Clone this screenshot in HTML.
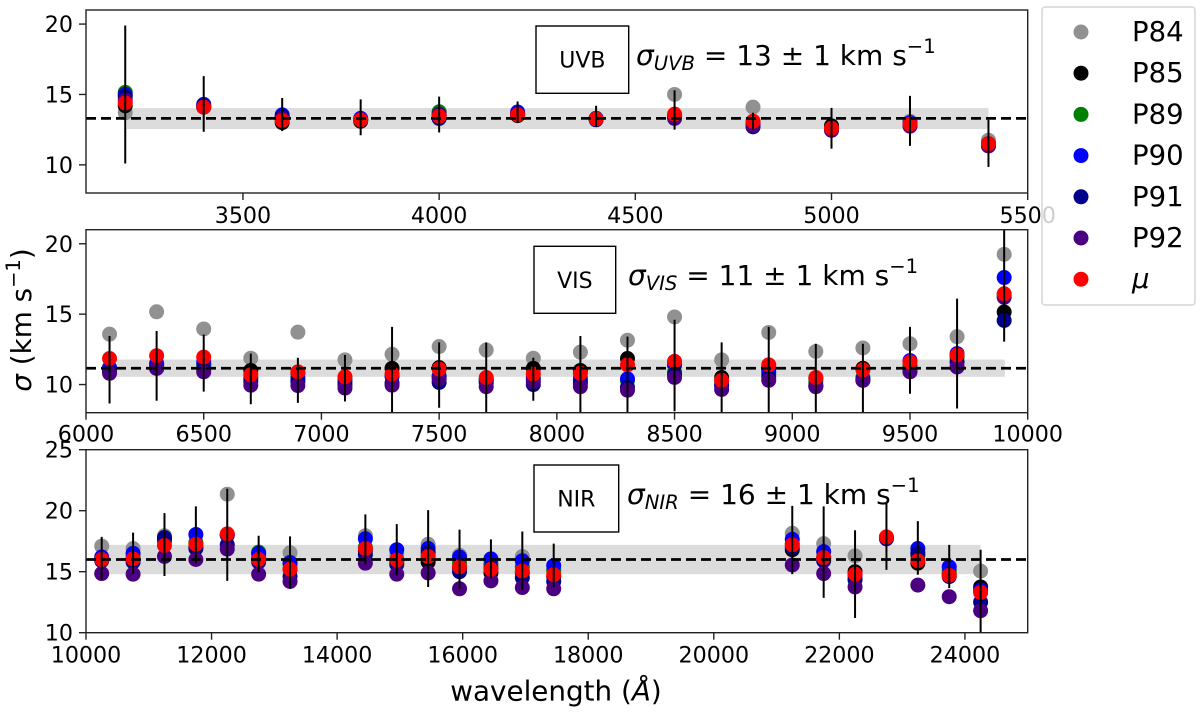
<!DOCTYPE html>
<html lang="en">
<head>
<meta charset="utf-8">
<title>Velocity dispersion versus wavelength</title>
<style>
html,body{margin:0;padding:0;background:#fff;width:1200px;height:713px;overflow:hidden}
svg{display:block}
text{font-family:"DejaVu Sans","Liberation Sans",sans-serif;fill:#000}
</style>
</head>
<body>
<svg id="chart" xmlns="http://www.w3.org/2000/svg" width="1200" height="713" viewBox="0 0 1200 713">
  <g id="panels"></g>
  <text transform="translate(31,320) rotate(-90)" text-anchor="middle" font-size="27.8"><tspan font-style="italic">σ</tspan> (km s<tspan font-size="19.5" dy="-11">−1</tspan><tspan dy="11">)</tspan></text>
  <text x="556" y="700.5" text-anchor="middle" font-size="27.8">wavelength (<tspan font-style="italic">Å</tspan>)</text>
  <g>
    <rect x="1042" y="7" width="153" height="298" rx="3" ry="3" fill="#fff" fill-opacity="0.8" stroke="#d6d6d6" stroke-width="1.5"/>
    <g id="legend-entries"></g>
  </g>
</svg>
<script>
// UVB arm
const uvbWave = [3200,3400,3600,3800,4000,4200,4400,4600,4800,5000,5200,5400];
const uvbP84 = [13.7,14.1,13.2,13.2,13.7,13.6,13.3,15.0,14.1,12.7,13.1,11.75];
const uvbP85 = [14.2,14.1,13.0,13.1,13.5,13.5,13.25,13.5,13.0,12.77,12.9,11.5];
const uvbP89 = [15.15,14.2,13.4,13.2,13.77,13.6,13.3,13.4,13.0,12.6,12.9,11.4];
const uvbP90 = [15.0,14.3,13.55,13.3,13.5,13.75,13.3,13.5,12.9,12.6,13.0,11.5];
const uvbP91 = [14.85,14.2,13.4,13.2,13.3,13.6,13.2,13.4,12.7,12.5,12.8,11.35];
const uvbP92 = [14.6,14.1,13.3,13.2,13.6,13.6,13.25,13.3,12.8,12.45,12.75,11.35];
const uvbMu = [14.4,14.1,13.15,13.2,13.45,13.55,13.27,13.6,13.1,12.6,12.9,11.5];
const uvbErrLow = [10.1,12.35,12.4,12.1,12.3,13.0,12.7,12.5,12.5,11.15,11.35,9.85];
const uvbErrHigh = [19.9,16.3,14.75,14.65,14.85,14.5,14.2,15.3,13.7,14.05,14.9,13.2];
const uvbXTicks = [3500,4000,4500,5000,5500];
const uvbYTicks = [10,15,20];
const uvbMean = 13.3;
const uvbBandLow = 12.54;
const uvbBandHigh = 14.03;
const uvbBandStart = 3204;
const uvbBandEnd = 5400;

// VIS arm
const visWave = [6100,6300,6500,6700,6900,7100,7300,7500,7700,7900,8100,8300,8500,8700,8900,9100,9300,9500,9700,9900];
const visP84 = [13.58,15.17,13.95,11.87,13.72,11.75,12.15,12.7,12.45,11.87,12.3,13.15,14.8,11.75,13.7,12.35,12.6,12.9,13.4,19.25];
const visP85 = [11.2,11.4,11.4,11.0,10.8,10.5,11.15,11.2,10.4,11.15,11.0,11.85,11.4,10.5,11.2,10.4,11.15,11.3,12.0,15.15];
const visP89 = [11.0,11.3,11.3,10.5,10.5,10.3,10.6,10.6,10.3,10.5,10.5,10.3,10.9,10.2,10.7,10.2,10.5,11.3,11.9,16.3];
const visP90 = [11.15,11.5,11.6,10.4,10.4,10.2,10.6,10.55,10.3,10.4,10.3,10.4,11.5,10.0,10.9,9.95,10.4,11.7,12.2,17.6];
const visP91 = [10.9,11.15,11.1,10.2,10.2,10.0,10.1,10.15,10.1,10.0,10.1,9.8,10.7,9.9,10.5,9.9,10.3,11.0,11.6,14.55];
const visP92 = [10.8,11.15,10.9,9.95,9.93,9.75,9.95,10.4,9.85,10.2,9.85,9.6,10.5,9.65,10.3,9.85,10.3,10.9,11.25,16.2];
const visMu = [11.85,12.05,11.95,10.7,10.9,10.55,10.75,11.1,10.5,10.75,10.8,11.4,11.65,10.3,11.4,10.5,11.05,11.6,12.1,16.45];
const visErrLow = [8.65,8.85,9.5,8.6,8.7,8.8,7.3,8.35,7.3,8.85,7.3,7.3,8.1,7.3,7.3,7.3,7.3,9.35,8.3,13.05];
const visErrHigh = [13.45,13.8,13.55,12.2,11.9,12.1,14.1,13.0,13.0,11.9,13.45,13.4,14.6,13.0,14.1,12.9,12.9,14.1,16.1,21.5];
const visXTicks = [6000,6500,7000,7500,8000,8500,9000,9500,10000];
const visYTicks = [10,15,20];
const visMean = 11.16;
const visBandLow = 10.55;
const visBandHigh = 11.78;
const visBandStart = 6131;
const visBandEnd = 9903;

// NIR arm
const nirWave = [10250,10750,11250,11750,12250,12750,13250,14450,14950,15450,15950,16450,16950,17450,21250,21750,22250,22750,23250,23750,24250];
const nirP84 = [17.1,16.9,17.95,17.3,21.35,16.4,16.55,17.95,16.4,17.25,16.35,15.8,16.25,15.2,18.15,17.3,16.3,17.8,16.6,15.2,15.05];
const nirP85 = [16.0,16.0,17.7,17.0,18.0,16.1,15.2,16.7,15.8,15.8,15.3,14.9,14.9,14.6,16.8,16.1,15.0,17.8,15.7,14.8,13.75];
const nirP89 = [16.1,16.2,17.5,17.4,18.0,16.6,15.6,17.0,16.0,16.3,15.7,15.6,15.4,15.1,17.3,16.2,14.3,17.8,16.3,15.0,13.4];
const nirP90 = [16.2,16.5,17.6,18.05,18.0,16.5,15.75,17.7,16.8,16.9,16.2,16.05,15.9,15.5,17.65,16.65,14.7,17.8,16.9,15.4,13.5];
const nirP91 = [15.9,15.8,17.8,16.9,17.2,15.8,14.6,16.4,15.6,16.6,15.0,15.3,14.5,14.2,17.0,15.9,14.4,17.7,16.5,14.6,12.5];
const nirP92 = [14.85,14.8,16.25,16.0,16.85,14.8,14.2,15.7,14.8,14.9,13.6,14.25,13.7,13.6,15.55,14.85,13.75,17.8,13.9,12.95,11.8];
const nirMu = [16.0,16.05,17.15,17.25,18.1,16.0,15.2,16.9,15.95,16.25,15.4,15.2,15.05,14.75,17.2,16.15,14.8,17.85,15.9,14.7,13.3];
const nirErrLow = [14.35,14.8,14.65,15.7,14.25,14.95,13.6,15.6,14.7,13.75,13.6,14.45,13.5,13.75,14.8,12.85,11.2,15.15,14.75,13.65,9.3];
const nirErrHigh = [17.85,18.2,19.8,20.35,21.8,17.95,17.9,19.7,18.9,20.05,18.45,17.65,18.3,17.3,20.4,20.35,18.4,20.6,19.15,17.2,16.8];
const nirXTicks = [10000,12000,14000,16000,18000,20000,22000,24000];
const nirYTicks = [10,15,20,25];
const nirMean = 16.0;
const nirBandLow = 14.8;
const nirBandHigh = 17.2;
const nirBandStart = 10250;
const nirBandEnd = 24250;

// Legend
const seriesNames = ['P84','P85','P89','P90','P91','P92','μ'];
const seriesColors = ['#919191','#000000','#008000','#0000ff','#00008b','#4b0082','#ff0000'];

const NS = 'http://www.w3.org/2000/svg';
function mk(tag, attrs, parent) {
  const el = document.createElementNS(NS, tag);
  for (const k in attrs) el.setAttribute(k, attrs[k]);
  parent.appendChild(el);
  return el;
}

const panels = [
  { id:'uvb', label:'UVB', box:{l:86,r:1027.7,t:10,b:193}, xlim:[3100,5500], ylim:[8,21],
    wave:uvbWave, series:[uvbP84,uvbP85,uvbP89,uvbP90,uvbP91,uvbP92,uvbMu], low:uvbErrLow, high:uvbErrHigh,
    xTicks:uvbXTicks, yTicks:uvbYTicks, mean:uvbMean, bandLow:uvbBandLow, bandHigh:uvbBandHigh, bandStart:uvbBandStart, bandEnd:uvbBandEnd,
    tag:{x:536,y:26,w:92.7,h:67.3}, value:'13', annX:636, annY:65, baseline:223 },
  { id:'vis', label:'VIS', box:{l:86,r:1027.7,t:229.7,b:412.7}, xlim:[6000,10000], ylim:[8,21],
    wave:visWave, series:[visP84,visP85,visP89,visP90,visP91,visP92,visMu], low:visErrLow, high:visErrHigh,
    xTicks:visXTicks, yTicks:visYTicks, mean:visMean, bandLow:visBandLow, bandHigh:visBandHigh, bandStart:visBandStart, bandEnd:visBandEnd,
    tag:{x:534,y:246.3,w:81.7,h:67}, value:'11', annX:628, annY:285, baseline:441.7 },
  { id:'nir', label:'NIR', box:{l:86,r:1027.7,t:449.7,b:632.7}, xlim:[10000,25000], ylim:[10,25],
    wave:nirWave, series:[nirP84,nirP85,nirP89,nirP90,nirP91,nirP92,nirMu], low:nirErrLow, high:nirErrHigh,
    xTicks:nirXTicks, yTicks:nirYTicks, mean:nirMean, bandLow:nirBandLow, bandHigh:nirBandHigh, bandStart:nirBandStart, bandEnd:nirBandEnd,
    tag:{x:534,y:465,w:84.7,h:67}, value:'16', annX:627, annY:504, baseline:662.7 }
];

const root = document.getElementById('panels');
panels.forEach(function (p) {
  const b = p.box;
  const sx = function (v) { return b.l + (v - p.xlim[0]) / (p.xlim[1] - p.xlim[0]) * (b.r - b.l); };
  const sy = function (v) { return b.b - (v - p.ylim[0]) / (p.ylim[1] - p.ylim[0]) * (b.b - b.t); };

  const g = mk('g', {}, root);
  
  

  const clip = mk('clipPath', { id: 'clip-' + p.id }, g);
  mk('rect', { x: b.l, y: b.t, width: b.r - b.l, height: b.b - b.t }, clip);

  const plot = mk('g', { 'clip-path': 'url(#clip-' + p.id + ')' }, g);
  
  

  const band = mk('rect', { x: sx(p.bandStart), y: sy(p.bandHigh), width: sx(p.bandEnd) - sx(p.bandStart), height: sy(p.bandLow) - sy(p.bandHigh), fill: '#dcdcdc' }, plot);
  
  

  p.series.forEach(function (vals, s) {
    const sg = mk('g', { fill: seriesColors[s] }, plot);
    
    
    vals.forEach(function (v, i) {
      const c = mk('circle', { cx: sx(p.wave[i]), cy: sy(v), r: 7.5 }, sg);
      
      
    });
  });

  p.wave.forEach(function (w, i) {
    const e = mk('line', { x1: sx(w), x2: sx(w), y1: sy(p.low[i]), y2: sy(p.high[i]), stroke: '#000', 'stroke-width': 2 }, plot);
    
    
  });

  const mean = mk('line', { x1: b.l, x2: b.r, y1: sy(p.mean), y2: sy(p.mean), stroke: '#000', 'stroke-width': 2.7, 'stroke-dasharray': '10 5' }, plot);
  
  

  const frame = mk('rect', { x: b.l, y: b.t, width: b.r - b.l, height: b.b - b.t, fill: 'none', stroke: '#222', 'stroke-width': 1.4 }, g);
  
  

  p.xTicks.forEach(function (t) {
    const x = sx(t);
    const tick = mk('line', { x1: x, x2: x, y1: b.b, y2: b.b + 7, stroke: '#222', 'stroke-width': 1.4 }, g);
    
    
    const lab = mk('text', { x: x, y: p.baseline, 'text-anchor': 'middle', 'font-size': 22.2 }, g);
    
    
    lab.textContent = t;
  });
  p.yTicks.forEach(function (t) {
    const y = sy(t);
    const tick = mk('line', { x1: b.l - 7, x2: b.l, y1: y, y2: y, stroke: '#222', 'stroke-width': 1.4 }, g);
    
    
    const lab = mk('text', { x: 73, y: y + 8, 'text-anchor': 'end', 'font-size': 22.2 }, g);
    
    
    lab.textContent = t;
  });

  const tag = mk('rect', { x: p.tag.x, y: p.tag.y, width: p.tag.w, height: p.tag.h, fill: '#fff', stroke: '#000', 'stroke-width': 1.4 }, g);
  
  
  const tagText = mk('text', { x: p.tag.x + p.tag.w / 2, y: p.tag.y + p.tag.h / 2 + 8, 'text-anchor': 'middle', 'font-size': 22 }, g);
  
  
  tagText.textContent = p.label;

  const ann = mk('text', { x: p.annX, y: p.annY, 'font-size': 28 }, g);
  
  
  const t1 = mk('tspan', { 'font-style': 'italic' }, ann);
  t1.textContent = 'σ';
  const t2 = mk('tspan', { 'font-style': 'italic', 'font-size': 19.6, dy: 5 }, ann);
  t2.textContent = p.label;
  const t3 = mk('tspan', { dy: -5 }, ann);
  t3.textContent = ' = ' + p.value + ' ± 1 km s';
  const t4 = mk('tspan', { 'font-size': 19.6, dy: -12 }, ann);
  t4.textContent = '−1';
});

const legendRoot = document.getElementById('legend-entries');
seriesNames.forEach(function (name, i) {
  const y = 32 + i * 41.2;
  const entry = mk('g', {}, legendRoot);
  
  
  mk('circle', { cx: 1081, cy: y, r: 7.5, fill: seriesColors[i] }, entry);
  const t = mk('text', { x: 1132, y: y + 9, 'font-size': 27.5 }, entry);
  if (name === 'μ') t.setAttribute('font-style', 'italic');
  t.textContent = name;
});
</script>
</body>
</html>
